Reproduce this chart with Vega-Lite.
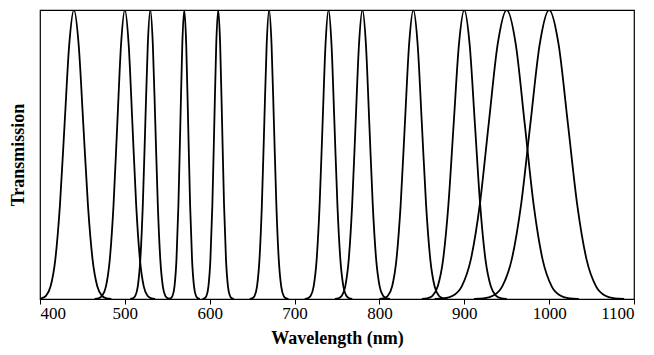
{
  "$schema": "https://vega.github.io/schema/vega-lite/v6.json",
  "autosize": "none",
  "width": 594,
  "height": 289,
  "padding": {"left": 40, "top": 10, "right": 20, "bottom": 56},
  "background": "white",
  "config": {
    "view": {"stroke": "black", "strokeWidth": 1.2},
    "font": "Liberation Serif"
  },
  "datasets": {
    "curves": [
      {"f":"440","w":396,"t":0},{"f":"440","w":401.5,"t":0.0022},{"f":"440","w":407,"t":0.0111},{"f":"440","w":412.5,"t":0.0439},{"f":"440","w":418,"t":0.1353},{"f":"440","w":423.5,"t":0.3247},{"f":"440","w":429,"t":0.6065},{"f":"440","w":434.5,"t":0.8825},{"f":"440","w":440,"t":1},{"f":"440","w":445.5,"t":0.8825},{"f":"440","w":451,"t":0.6065},{"f":"440","w":456.5,"t":0.3247},{"f":"440","w":462,"t":0.1353},{"f":"440","w":467.5,"t":0.0439},{"f":"440","w":473,"t":0.0111},{"f":"440","w":478.5,"t":0.0022},{"f":"440","w":484,"t":0},
      {"f":"500","w":464.4,"t":0},{"f":"500","w":468.85,"t":0.0022},{"f":"500","w":473.3,"t":0.0111},{"f":"500","w":477.75,"t":0.0439},{"f":"500","w":482.2,"t":0.1353},{"f":"500","w":486.65,"t":0.3247},{"f":"500","w":491.1,"t":0.6065},{"f":"500","w":495.55,"t":0.8825},{"f":"500","w":500,"t":1},{"f":"500","w":504.45,"t":0.8825},{"f":"500","w":508.9,"t":0.6065},{"f":"500","w":513.35,"t":0.3247},{"f":"500","w":517.8,"t":0.1353},{"f":"500","w":522.25,"t":0.0439},{"f":"500","w":526.7,"t":0.0111},{"f":"500","w":531.15,"t":0.0022},{"f":"500","w":535.6,"t":0},
      {"f":"530","w":506.4,"t":0},{"f":"530","w":509.35,"t":0.0022},{"f":"530","w":512.3,"t":0.0111},{"f":"530","w":515.25,"t":0.0439},{"f":"530","w":518.2,"t":0.1353},{"f":"530","w":521.15,"t":0.3247},{"f":"530","w":524.1,"t":0.6065},{"f":"530","w":527.05,"t":0.8825},{"f":"530","w":530,"t":1},{"f":"530","w":532.95,"t":0.8825},{"f":"530","w":535.9,"t":0.6065},{"f":"530","w":538.85,"t":0.3247},{"f":"530","w":541.8,"t":0.1353},{"f":"530","w":544.75,"t":0.0439},{"f":"530","w":547.7,"t":0.0111},{"f":"530","w":550.65,"t":0.0022},{"f":"530","w":553.6,"t":0},
      {"f":"570","w":551.6,"t":0},{"f":"570","w":553.9,"t":0.0022},{"f":"570","w":556.2,"t":0.0111},{"f":"570","w":558.5,"t":0.0439},{"f":"570","w":560.8,"t":0.1353},{"f":"570","w":563.1,"t":0.3247},{"f":"570","w":565.4,"t":0.6065},{"f":"570","w":567.7,"t":0.8825},{"f":"570","w":570,"t":1},{"f":"570","w":572.3,"t":0.8825},{"f":"570","w":574.6,"t":0.6065},{"f":"570","w":576.9,"t":0.3247},{"f":"570","w":579.2,"t":0.1353},{"f":"570","w":581.5,"t":0.0439},{"f":"570","w":583.8,"t":0.0111},{"f":"570","w":586.1,"t":0.0022},{"f":"570","w":588.4,"t":0},
      {"f":"610","w":591.6,"t":0},{"f":"610","w":593.9,"t":0.0022},{"f":"610","w":596.2,"t":0.0111},{"f":"610","w":598.5,"t":0.0439},{"f":"610","w":600.8,"t":0.1353},{"f":"610","w":603.1,"t":0.3247},{"f":"610","w":605.4,"t":0.6065},{"f":"610","w":607.7,"t":0.8825},{"f":"610","w":610,"t":1},{"f":"610","w":612.3,"t":0.8825},{"f":"610","w":614.6,"t":0.6065},{"f":"610","w":616.9,"t":0.3247},{"f":"610","w":619.2,"t":0.1353},{"f":"610","w":621.5,"t":0.0439},{"f":"610","w":623.8,"t":0.0111},{"f":"610","w":626.1,"t":0.0022},{"f":"610","w":628.4,"t":0},
      {"f":"670","w":647.2,"t":0},{"f":"670","w":650.05,"t":0.0022},{"f":"670","w":652.9,"t":0.0111},{"f":"670","w":655.75,"t":0.0439},{"f":"670","w":658.6,"t":0.1353},{"f":"670","w":661.45,"t":0.3247},{"f":"670","w":664.3,"t":0.6065},{"f":"670","w":667.15,"t":0.8825},{"f":"670","w":670,"t":1},{"f":"670","w":672.85,"t":0.8825},{"f":"670","w":675.7,"t":0.6065},{"f":"670","w":678.55,"t":0.3247},{"f":"670","w":681.4,"t":0.1353},{"f":"670","w":684.25,"t":0.0439},{"f":"670","w":687.1,"t":0.0111},{"f":"670","w":689.95,"t":0.0022},{"f":"670","w":692.8,"t":0},
      {"f":"740","w":712,"t":0},{"f":"740","w":715.5,"t":0.0022},{"f":"740","w":719,"t":0.0111},{"f":"740","w":722.5,"t":0.0439},{"f":"740","w":726,"t":0.1353},{"f":"740","w":729.5,"t":0.3247},{"f":"740","w":733,"t":0.6065},{"f":"740","w":736.5,"t":0.8825},{"f":"740","w":740,"t":1},{"f":"740","w":743.5,"t":0.8825},{"f":"740","w":747,"t":0.6065},{"f":"740","w":750.5,"t":0.3247},{"f":"740","w":754,"t":0.1353},{"f":"740","w":757.5,"t":0.0439},{"f":"740","w":761,"t":0.0111},{"f":"740","w":764.5,"t":0.0022},{"f":"740","w":768,"t":0},
      {"f":"780","w":747.6,"t":0},{"f":"780","w":751.65,"t":0.0022},{"f":"780","w":755.7,"t":0.0111},{"f":"780","w":759.75,"t":0.0439},{"f":"780","w":763.8,"t":0.1353},{"f":"780","w":767.85,"t":0.3247},{"f":"780","w":771.9,"t":0.6065},{"f":"780","w":775.95,"t":0.8825},{"f":"780","w":780,"t":1},{"f":"780","w":784.05,"t":0.8825},{"f":"780","w":788.1,"t":0.6065},{"f":"780","w":792.15,"t":0.3247},{"f":"780","w":796.2,"t":0.1353},{"f":"780","w":800.25,"t":0.0439},{"f":"780","w":804.3,"t":0.0111},{"f":"780","w":808.35,"t":0.0022},{"f":"780","w":812.4,"t":0},
      {"f":"840","w":800,"t":0},{"f":"840","w":805,"t":0.0022},{"f":"840","w":810,"t":0.0111},{"f":"840","w":815,"t":0.0439},{"f":"840","w":820,"t":0.1353},{"f":"840","w":825,"t":0.3247},{"f":"840","w":830,"t":0.6065},{"f":"840","w":835,"t":0.8825},{"f":"840","w":840,"t":1},{"f":"840","w":845,"t":0.8825},{"f":"840","w":850,"t":0.6065},{"f":"840","w":855,"t":0.3247},{"f":"840","w":860,"t":0.1353},{"f":"840","w":865,"t":0.0439},{"f":"840","w":870,"t":0.0111},{"f":"840","w":875,"t":0.0022},{"f":"840","w":880,"t":0},
      {"f":"900","w":850,"t":0},{"f":"900","w":856.25,"t":0.0022},{"f":"900","w":862.5,"t":0.0111},{"f":"900","w":868.75,"t":0.0439},{"f":"900","w":875,"t":0.1353},{"f":"900","w":881.25,"t":0.3247},{"f":"900","w":887.5,"t":0.6065},{"f":"900","w":893.75,"t":0.8825},{"f":"900","w":900,"t":1},{"f":"900","w":906.25,"t":0.8825},{"f":"900","w":912.5,"t":0.6065},{"f":"900","w":918.75,"t":0.3247},{"f":"900","w":925,"t":0.1353},{"f":"900","w":931.25,"t":0.0439},{"f":"900","w":937.5,"t":0.0111},{"f":"900","w":943.75,"t":0.0022},{"f":"900","w":950,"t":0},
      {"f":"950","w":865.2,"t":0},{"f":"950","w":875.8,"t":0.0022},{"f":"950","w":886.4,"t":0.0111},{"f":"950","w":897,"t":0.0439},{"f":"950","w":907.6,"t":0.1353},{"f":"950","w":918.2,"t":0.3247},{"f":"950","w":928.8,"t":0.6065},{"f":"950","w":939.4,"t":0.8825},{"f":"950","w":950,"t":1},{"f":"950","w":960.6,"t":0.8825},{"f":"950","w":971.2,"t":0.6065},{"f":"950","w":981.8,"t":0.3247},{"f":"950","w":992.4,"t":0.1353},{"f":"950","w":1003,"t":0.0439},{"f":"950","w":1013.6,"t":0.0111},{"f":"950","w":1024.2,"t":0.0022},{"f":"950","w":1034.8,"t":0},
      {"f":"1000","w":911.6,"t":0},{"f":"1000","w":922.65,"t":0.0022},{"f":"1000","w":933.7,"t":0.0111},{"f":"1000","w":944.75,"t":0.0439},{"f":"1000","w":955.8,"t":0.1353},{"f":"1000","w":966.85,"t":0.3247},{"f":"1000","w":977.9,"t":0.6065},{"f":"1000","w":988.95,"t":0.8825},{"f":"1000","w":1000,"t":1},{"f":"1000","w":1011.05,"t":0.8825},{"f":"1000","w":1022.1,"t":0.6065},{"f":"1000","w":1033.15,"t":0.3247},{"f":"1000","w":1044.2,"t":0.1353},{"f":"1000","w":1055.25,"t":0.0439},{"f":"1000","w":1066.3,"t":0.0111},{"f":"1000","w":1077.35,"t":0.0022},{"f":"1000","w":1088.4,"t":0}
    ]
  },
  "data": {"name": "curves"},
  "mark": {"type": "line", "color": "black", "strokeWidth": 1.8, "interpolate": "monotone", "clip": true},
  "encoding": {
    "x": {
      "field": "w", "type": "quantitative",
      "scale": {"domain": [400, 1100], "nice": false, "zero": false},
      "axis": {
        "title": "Wavelength (nm)", "values": [400, 500, 600, 700, 800, 900, 1000, 1100], "format": "d",
        "grid": false, "domain": false, "tickColor": "black", "tickSize": 5, "tickWidth": 1,
        "labelFont": "Liberation Serif", "labelFontSize": 17, "labelColor": "black", "labelPadding": 1,
        "titleFont": "Liberation Serif", "titleFontSize": 18, "titleFontWeight": "bold", "titleColor": "black", "titlePadding": 8
      }
    },
    "y": {
      "field": "t", "type": "quantitative",
      "scale": {"domain": [0, 1], "nice": false},
      "axis": {
        "title": "Transmission", "labels": false, "ticks": false, "grid": false, "domain": false,
        "titleFont": "Liberation Serif", "titleFontSize": 18, "titleFontWeight": "bold", "titleColor": "black", "titlePadding": 13
      }
    },
    "detail": {"field": "f", "type": "nominal"}
  }
}
